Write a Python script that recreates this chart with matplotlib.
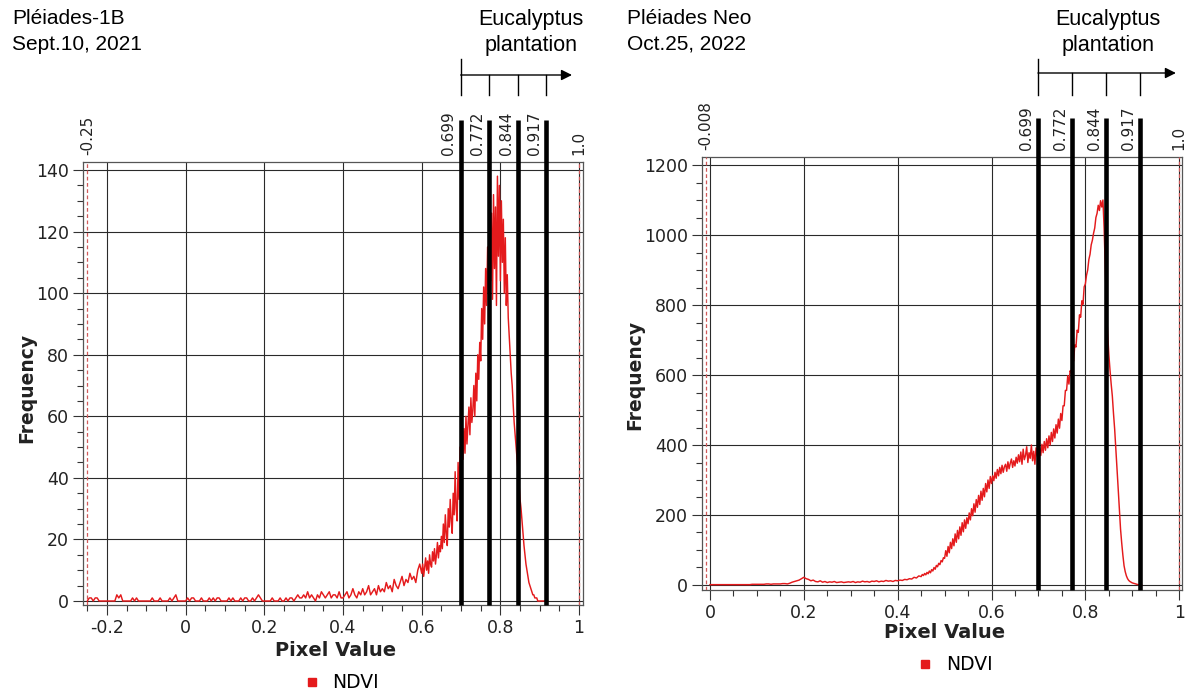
import numpy as np
import matplotlib
matplotlib.use("Agg")
import matplotlib.pyplot as plt
from matplotlib.ticker import MultipleLocator, FuncFormatter
from matplotlib.lines import Line2D
from matplotlib.transforms import blended_transform_factory

W, H = 1185, 692

# ---------------- data ----------------
# coarse bins (step 0.005) for the flat part, fine bins (step 0.0025) for the active part
coarse_step = 0.005
fine_step = 0.0025

left_low_start = -0.25
left_low_counts = (
    [0, 1, 1, 0, 1, 1, 0, 0, 0, 0]
    + [0, 0, 0, 0, 0, 2, 1, 2, 0, 0, 0, 0, 0, 1, 0, 1, 0, 0, 0, 0]
    + [0, 0, 0, 1, 0, 0, 0, 1, 0, 0, 0, 0, 1, 0, 1, 2, 0, 0, 0, 0]
    + [0, 1, 0, 1, 1, 0, 0, 0, 1, 0, 0, 0, 1, 0, 1, 0, 1, 1, 0, 0]
    + [0, 0, 1, 0, 1, 0, 0, 0, 1, 0, 1, 1, 0, 0, 1, 0, 1, 2, 1, 0]
    + [0, 0, 0, 0, 1, 0, 0, 0, 1, 0, 0, 1, 0, 1, 1, 0, 1, 2, 1, 1]
    + [2, 1, 3, 1, 2, 1, 0, 2, 1, 3, 2, 1, 2, 3, 1, 2, 2, 1, 3, 1]
    + [1, 2, 3, 1, 2, 4, 2, 1, 3, 2, 4, 2, 3, 5, 2, 3, 4, 2, 5, 3]
    + [4, 3, 6, 4, 5, 3, 7, 5, 4, 6, 8, 5, 7, 6, 9, 7, 8, 6, 10, 12]
)
left_high_start = 0.6
left_high_counts = (
    [9, 12, 8, 11, 14, 10, 13, 9, 15, 12, 11, 16, 13, 17, 12, 15, 19, 14, 18, 16]
    + [21, 17, 25, 19, 28, 22, 18, 30, 24, 33, 26, 22, 35, 28, 42, 30, 26, 45, 33, 50]
    + [40, 52, 46, 56, 48, 60, 51, 57, 63, 54, 66, 58, 62, 70, 60, 74, 65, 80, 72, 84]
    + [78, 95, 85, 102, 90, 108, 96, 115, 100, 120, 104, 126, 98, 132, 108, 128, 96, 138, 112, 135]
    + [104, 130, 110, 124, 100, 118, 96, 106, 92, 86, 80, 74, 70, 64, 58, 54, 50, 46, 42, 38]
    + [33, 30, 26, 22, 18, 15, 12, 10, 8, 6, 5, 4, 3, 2, 2, 1, 1, 1, 0, 0]
    + [0, 0, 0, 0, 0, 0, 0, 0, 0]
)
right_low_start = 0.0
right_low_counts = (
    [1, 1, 1, 1, 1, 1, 1, 1, 1, 1, 1, 1, 1, 1, 1, 1, 1, 1, 2, 2]
    + [2, 2, 2, 2, 3, 3, 2, 3, 3, 3, 3, 4, 4, 3, 5, 8, 10, 12, 14, 18]
    + [22, 18, 16, 12, 14, 10, 9, 12, 8, 10, 7, 9, 8, 10, 7, 8, 9, 7, 8, 9]
    + [8, 10, 7, 9, 8, 11, 9, 10, 8, 11, 10, 12, 9, 11, 10, 13, 11, 12, 10, 13]
    + [12, 14, 13, 16, 15, 18, 17, 22, 20, 26]
)
right_high_start = 0.45
right_high_counts = (
    [24, 30, 27, 33, 29, 36, 32, 40, 35, 44, 40, 50, 45, 56, 52, 62, 58, 70, 66, 78]
    + [76, 98, 82, 110, 92, 122, 104, 132, 112, 146, 122, 156, 132, 166, 142, 178, 152, 186, 162, 192]
    + [175, 206, 186, 218, 198, 232, 208, 244, 222, 256, 230, 268, 242, 276, 252, 290, 266, 300, 276, 310]
    + [290, 312, 298, 322, 305, 330, 312, 336, 318, 342, 322, 338, 345, 325, 352, 332, 348, 360, 336, 355]
    + [340, 365, 348, 372, 352, 380, 345, 388, 358, 370, 395, 350, 378, 362, 400, 355, 382, 345, 392, 370]
    + [355, 392, 370, 402, 378, 410, 385, 418, 392, 426, 400, 436, 410, 446, 420, 458, 434, 474, 448, 490]
    + [470, 512, 512, 556, 556, 598, 574, 612, 606, 648, 640, 686, 680, 728, 722, 772, 765, 812, 802, 852]
    + [860, 885, 900, 930, 945, 972, 985, 1005, 1020, 1050, 1062, 1085, 1070, 1098, 1080, 1100, 1020, 900, 790, 720]
    + [660, 615, 575, 540, 490, 445, 390, 330, 275, 215, 160, 120, 85, 55, 38, 26, 18, 13, 10, 8]
    + [6, 5, 4, 3, 2, 1, 1, 0, 0]
)
thresholds = [0.699, 0.772, 0.844, 0.917]
threshold_labels = ["0.699", "0.772", "0.844", "0.917"]
left_range = [-0.25, 1.0]
left_range_labels = ["-0.25", "1.0"]
right_range = [-0.008, 1.0]
right_range_labels = ["-0.008", "1.0"]
left_title = ["Pléiades-1B", "Sept.10, 2021"]
right_title = ["Pléiades Neo", "Oct.25, 2022"]
class_label = ["Eucalyptus", "plantation"]
series_name = "NDVI"
x_label = "Pixel Value"
y_label = "Frequency"

RED = "#e41a1c"
plt.rcParams["font.family"] = ["DejaVu Sans"]

fig = plt.figure(figsize=(W / 100, H / 100), dpi=100)
axL = fig.add_axes([83 / W, 1 - 605 / H, 500 / W, 443 / H])
axR = fig.add_axes([702 / W, 1 - 590 / H, 480 / W, 433 / H])


def fmt(v, pos):
    v = round(v, 3) + 0.0
    return f"{v:g}"


def style(ax, xlim, ylim, ymaj, ymin):
    ax.set_xlim(xlim)
    ax.set_ylim(ylim)
    ax.xaxis.set_major_locator(MultipleLocator(0.2))
    ax.xaxis.set_minor_locator(MultipleLocator(0.05))
    ax.yaxis.set_major_locator(MultipleLocator(ymaj))
    ax.yaxis.set_minor_locator(MultipleLocator(ymin))
    ax.xaxis.set_major_formatter(FuncFormatter(fmt))
    ax.grid(True, which="major", color="#2a2a2a", lw=0.8)
    ax.set_axisbelow(True)
    ax.tick_params(which="major", direction="out", length=7, width=0.8,
                   color="#333333", labelsize=12.5, pad=3, labelcolor="#222222")
    ax.tick_params(which="minor", direction="out", length=4, width=0.8,
                   color="#333333")
    for s in ax.spines.values():
        s.set_color("#555555")
        s.set_linewidth(0.9)


def series(low_start, low_counts, high_start, high_counts):
    x_low = low_start + coarse_step * np.arange(len(low_counts))
    x_high = high_start + fine_step * np.arange(len(high_counts))
    return (np.concatenate([x_low, x_high]),
            np.concatenate([low_counts, high_counts]))


def draw(ax, xs, ys, rng, rng_labels, top_frac, lab_frac, title, title_x,
         cls_x, arrow_end, arrow_y, xl_pos, yl_pos, leg_pos):
    ax.plot(xs, ys, color=RED, lw=1.05, zorder=4)
    trans = ax.get_xaxis_transform()
    for r, lab in zip(rng, rng_labels):
        ax.axvline(r, color="#d05a5a", lw=0.9, ls=(0, (3, 2)), zorder=3)
        ax.text(r, lab_frac, lab, transform=trans, rotation=90, ha="center",
                va="bottom", fontsize=11, color="#222222")
    for t, lab in zip(thresholds, threshold_labels):
        ax.plot([t, t], [0, top_frac], transform=trans, color="black", lw=3.3,
                clip_on=False, solid_capstyle="butt", zorder=6)
        ax.annotate(lab, xy=(t, lab_frac), xycoords=trans, xytext=(-3, 0),
                    textcoords="offset points", rotation=90, ha="right",
                    va="bottom", fontsize=11, color="#222222")
    # arrow above
    bt = blended_transform_factory(ax.transData, fig.transFigure)
    ya = 1 - arrow_y / H
    ax.plot([thresholds[0], thresholds[0]], [1 - 59 / H, 1 - 95 / H],
            transform=bt, color="black", lw=1.0, clip_on=False)
    for t in thresholds[1:]:
        ax.plot([t, t], [ya, 1 - 95 / H], transform=bt, color="black", lw=1.0,
                clip_on=False)
    ax.annotate("", xy=(arrow_end, ya), xycoords=bt,
                xytext=(thresholds[0], ya), textcoords=bt,
                arrowprops=dict(arrowstyle="-|>", color="black", lw=1.0,
                                mutation_scale=16, shrinkA=0, shrinkB=0))
    fig.text(title_x / W, 1 - 18 / H, title[0], fontsize=15, va="center",
             ha="left", family="Liberation Sans")
    fig.text(title_x / W, 1 - 44 / H, title[1], fontsize=15, va="center",
             ha="left", family="Liberation Sans")
    fig.text(cls_x / W, 1 - 20 / H, class_label[0], fontsize=15.5,
             va="center", ha="center", family="Liberation Sans")
    fig.text(cls_x / W, 1 - 46 / H, class_label[1], fontsize=15.5,
             va="center", ha="center", family="Liberation Sans")
    ax.text(xl_pos[0], xl_pos[1], x_label, transform=ax.transAxes,
            fontsize=14, fontweight="bold", ha="center", va="center",
            color="#222222")
    ax.text(yl_pos[0], yl_pos[1], y_label, transform=ax.transAxes,
            fontsize=13.5, fontweight="bold", ha="center", va="center",
            rotation=90, color="#222222")
    h = Line2D([], [], marker="s", color=RED, linestyle="none", markersize=6)
    ax.legend([h], [series_name], loc="center", bbox_to_anchor=leg_pos,
              frameon=False, fontsize=13.5, handletextpad=0.6, handlelength=1.0)


style(axL, (-0.261, 1.010), (-1.3, 142.6), 20, 5)
style(axR, (-0.017, 1.006), (-14.3, 1222.9), 200, 50)

xL, yL = series(left_low_start, left_low_counts, left_high_start, left_high_counts)
xR, yR = series(right_low_start, right_low_counts, right_high_start, right_high_counts)

draw(axL, xL, yL, left_range, left_range_labels,
     (605 - 120) / 443, (605 - 155) / 443, left_title, 12, 531, 0.982, 75,
     (0.506, -0.102), (-0.112, 0.49), (0.515, -0.176))
draw(axR, xR, yR, right_range, right_range_labels,
     (590 - 118) / 433, (590 - 150) / 433, right_title, 627, 1108, 0.993, 73,
     (0.506, -0.099), (-0.14, 0.497), (0.525, -0.173))

fig.savefig("out.png", dpi=100)
